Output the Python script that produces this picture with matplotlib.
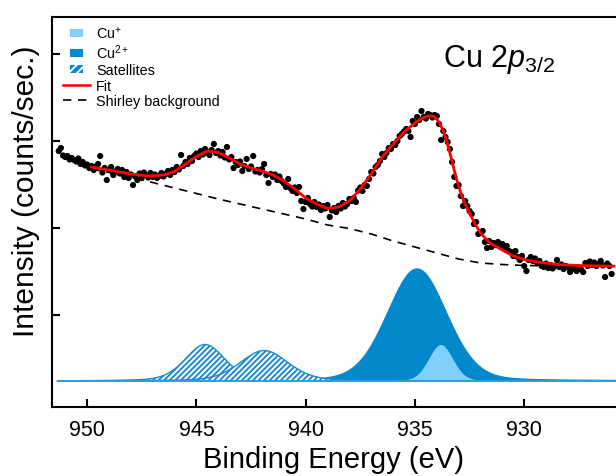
import numpy as np
import matplotlib
matplotlib.use("Agg")
import matplotlib.pyplot as plt
from matplotlib.patches import Patch, Rectangle
from matplotlib.lines import Line2D
from matplotlib.legend_handler import HandlerPatch

plt.rcParams['font.family'] = ['Liberation Sans', 'DejaVu Sans']
plt.rcParams['mathtext.fontset'] = 'custom'
plt.rcParams['mathtext.rm'] = 'Liberation Sans'
plt.rcParams['mathtext.it'] = 'Liberation Sans:italic'
plt.rcParams['mathtext.bf'] = 'Liberation Sans:bold'
plt.rcParams['hatch.linewidth'] = 1.4

# ----------------
#  DATA
# ----------------

# measured spectrum: scan starts at 951.3 eV, 0.1 eV step
e_start = 951.3
e_step = 0.1
counts = [
    2300, 2330, 2255, 2240, 2250, 2215, 2230, 2210, 2195, 2225,
    2170, 2190, 2155, 2165, 2130, 2150, 2110, 2145, 2170, 2250,
    2085, 2130, 2010, 2115, 2140, 2060, 2095, 2120, 2075, 2110,
    2040, 2090, 2030, 2065, 1960, 2045, 2010, 2075, 2030, 2085,
    2060, 2035, 2080, 2040, 2065, 2030, 2050, 2080, 2045, 2070,
    2100, 2060, 2110, 2090, 2140, 2115, 2260, 2150, 2190, 2170,
    2230, 2200, 2250, 2275, 2240, 2300, 2265, 2320, 2285, 2260,
    2310, 2370, 2280, 2300, 2255, 2290, 2235, 2340, 2215, 2240,
    2130, 2190, 2160, 2195, 2100, 2150, 2220, 2120, 2145, 2250,
    2095, 2110, 2085, 2120, 2170, 2060, 1980, 2070, 2040, 2065,
    2010, 2045, 2000, 1975, 1940, 2020, 1930, 1900, 1935, 1880,
    1940, 1800, 1720, 1790, 1830, 1770, 1745, 1790, 1740, 1765,
    1710, 1750, 1725, 1760, 1640, 1705, 1730, 1690, 1750, 1725,
    1780, 1745, 1770, 1820, 1800, 1830, 1790, 1905, 1935, 1900,
    1960, 1950, 2020, 2090, 2075, 2140, 2160, 2200, 2270, 2240,
    2280, 2330, 2320, 2370, 2360, 2400, 2450, 2470, 2495, 2520,
    2500, 2440, 2600, 2570, 2640, 2610, 2700, 2640, 2625, 2670,
    2660, 2635, 2660, 2650, 2570, 2410, 2500, 2440, 2390, 2320,
    2190, 2040, 1950, 1960, 1850, 1750, 1800, 1750, 1700, 1670,
    1570, 1590, 1470, 1480, 1500, 1390, 1330, 1400, 1340, 1380,
    1360, 1390, 1345, 1370, 1330, 1350, 1300, 1290, 1250, 1300,
    1240, 1210, 1250, 1150, 1100, 1210, 1240, 1200, 1225, 1180,
    1200, 1150, 1140, 1175, 1130, 1160, 1125, 1150, 1210, 1140,
    1165, 1120, 1150, 1135, 1090, 1120, 1140, 1100, 1130, 1115,
    1090, 1180, 1150, 1195, 1160, 1185, 1150, 1170, 1200, 1155,
    1040, 1175, 1150, 1070,
]

# fit envelope (red line)
fit_energy = [949.8, 949.0, 948.0, 947.2, 946.5, 946.0, 945.5, 945.0, 944.5,
              944.0, 943.5, 943.0, 942.5, 942.0, 941.5, 941.0, 940.5, 940.0,
              939.5, 939.0, 938.5, 938.0, 937.5, 937.0, 936.5, 936.0, 935.5,
              935.0, 934.75, 934.5, 934.3, 934.15, 934.0, 933.85, 933.7,
              933.55, 933.4, 933.25, 933.1, 932.95, 932.8, 932.65, 932.5,
              932.25, 932.0, 931.75, 931.5, 931.0, 930.5, 930.0, 929.4,
              928.5, 927.5, 925.9]
fit_counts = [2140, 2110, 2070, 2050, 2060, 2095, 2170, 2245, 2300,
              2285, 2230, 2170, 2130, 2100, 2060, 2000, 1920, 1830,
              1770, 1725, 1740, 1800, 1920, 2070, 2240, 2370, 2490,
              2580, 2620, 2645, 2652, 2645, 2620, 2570, 2500,
              2400, 2280, 2150, 2020, 1915, 1820, 1745, 1680,
              1570, 1480, 1420, 1370, 1310, 1250, 1215, 1190,
              1165, 1155, 1148]

# Shirley background (dashed)
bg_energy = [949.8, 949.0, 948.0, 947.0, 946.0, 945.0, 944.0, 943.0, 942.0,
             941.0, 940.0, 939.0, 938.0, 937.0, 936.0, 935.0, 934.0, 933.0,
             932.0, 931.0, 930.0, 928.0, 925.9]
bg_counts = [2120, 2085, 2035, 1985, 1930, 1875, 1820, 1770, 1720,
             1670, 1620, 1560, 1525, 1470, 1400, 1340, 1280, 1220,
             1180, 1165, 1155, 1150, 1148]

# fitted components (pseudo-Voigt): center eV, height, FWHM eV, Lorentzian fraction
cu2_peak = [934.9, 1120, 3.2, 0.15]
cu1_peak = [933.8, 360, 1.3, 0.10]
sat1_peak = [944.6, 365, 2.15, 0.30]
sat2_peak = [941.9, 305, 2.6, 0.30]

component_range = [951.35, 925.8]

col_cu1 = '#80d0fb'
col_cu2 = '#0388cc'
col_sat = '#1b8bd2'


def pseudo_voigt(e, center, height, fwhm, lmix):
    d = (e - center) / fwhm
    gauss = np.exp(-4 * np.log(2) * d**2)
    lorentz = 1.0 / (1.0 + 4 * d**2)
    return height * ((1 - lmix) * gauss + lmix * lorentz)


def small_box(legend, orig_handle, xdescent, ydescent, width, height, fontsize):
    w = 0.48 * width
    h = 0.82 * height
    return Rectangle((-xdescent + (width - w) / 2, -ydescent + (height - h) / 2), w, h)


# -------------------

energy = np.round(e_start - e_step * np.arange(len(counts)), 1)
e_model = np.linspace(component_range[0], component_range[1], 1200)

cu2 = pseudo_voigt(e_model, *cu2_peak)
cu1 = pseudo_voigt(e_model, *cu1_peak)
sat1 = pseudo_voigt(e_model, *sat1_peak)
sat2 = pseudo_voigt(e_model, *sat2_peak)

fig = plt.figure(figsize=(6.16, 4.77), dpi=100)
ax = fig.add_axes([51.7 / 616, 1 - 407.5 / 477, (616 - 51.7) / 616, (407.5 - 18) / 477])

# components
ax.fill_between(e_model, 0, cu2, facecolor=col_cu2, edgecolor='none', zorder=1)
ax.plot(e_model, cu2, color=col_cu2, lw=1.0, zorder=1)
ax.fill_between(e_model, 0, cu1, facecolor=col_cu1, edgecolor='none', zorder=2)
ax.fill_between(e_model, 0, sat1, facecolor='white', edgecolor=col_sat, hatch='//////',
                lw=1.0, zorder=3)
ax.fill_between(e_model, 0, sat2, facecolor='white', edgecolor=col_sat, hatch='//////',
                lw=1.0, zorder=4)
ax.plot(e_model, np.zeros_like(e_model), color='#3a9ede', lw=1.2, zorder=5)

# background, data, fit
ax.plot(bg_energy, bg_counts, color='black', lw=1.2, linestyle=(0, (5, 4)), zorder=6)
ax.scatter(energy, counts, s=20, color='black', edgecolors='none', zorder=7)
ax.plot(fit_energy, fit_counts, color='#ff0000', lw=2.0, zorder=8,
        solid_joinstyle='round')

ax.set_xlim(951.62, 925.8)
ax.set_ylim(-255, 3640)
ax.set_xticks([950, 945, 940, 935, 930])
ax.set_yticks([660, 1530, 2400, 3270])
ax.set_yticklabels([])
ax.tick_params(direction='in', length=6, width=1.5, labelsize=15.5, pad=9)
ax.tick_params(axis='y', left=True, right=False)
ax.tick_params(axis='x', top=False)
for s in ['left', 'bottom', 'top']:
    ax.spines[s].set_linewidth(1.5)
ax.spines['right'].set_visible(False)

ax.set_xlabel('Binding Energy (eV)', fontsize=21)
ax.xaxis.set_label_coords(0.5, -0.099)
ax.set_ylabel('Intensity (counts/sec.)', fontsize=21.5)
ax.yaxis.set_label_coords(-0.02, 0.555)

ax.text(0.693, 0.874, r'Cu 2$\mathit{p}_{\mathit{3/2}}$', transform=ax.transAxes,
        fontsize=22, ha='left', va='baseline')

handles = [
    Patch(facecolor=col_cu1, edgecolor='none'),
    Patch(facecolor=col_cu2, edgecolor='none'),
    Patch(facecolor=col_cu2, edgecolor='white', hatch='////', lw=0),
    Line2D([], [], color='#ff0000', lw=1.8),
    Line2D([], [], color='black', lw=1.2, linestyle=(0, (5, 4))),
]
labels = [r'Cu$^{+}$', r'Cu$^{2+}$', 'Satellites', 'Fit', 'Shirley background']
ax.legend(handles, labels, loc='upper left', bbox_to_anchor=(0.02, 0.98),
          frameon=False, fontsize=10.4, handlelength=1.85, handletextpad=0.45,
          labelspacing=0.12, borderpad=0, borderaxespad=0,
          handler_map={Patch: HandlerPatch(patch_func=small_box)})

fig.savefig('out.png', dpi=100)
